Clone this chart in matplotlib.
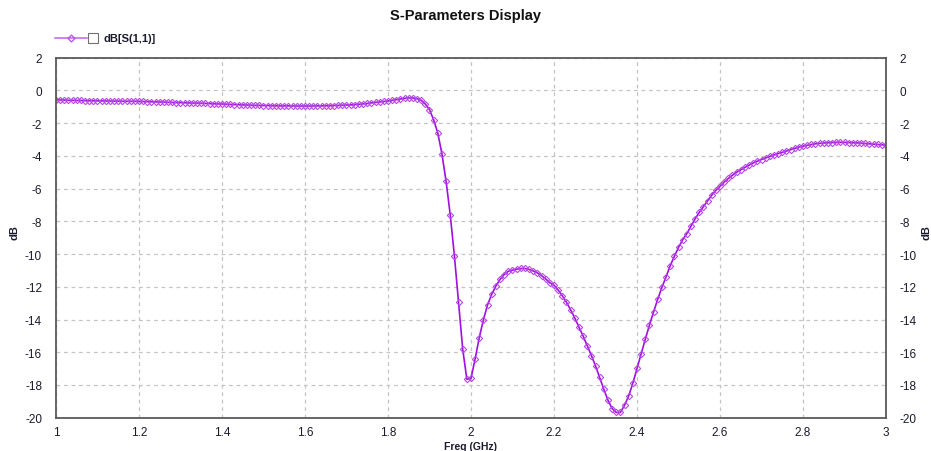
import numpy as np
import matplotlib
matplotlib.use("Agg")
import matplotlib.pyplot as plt
from matplotlib.lines import Line2D
from matplotlib.patches import Rectangle

plt.rcParams['font.family'] = ['Liberation Sans', 'DejaVu Sans']
plt.rcParams['axes.unicode_minus'] = False

title = "S-Parameters Display"
series_name = "dB[S(1,1)]"
x_label = "Freq (GHz)"
y_label = "dB"

freq_start = 1.0
freq_step = 0.01

s11_db = [
    # 1.00 - 1.09
    -0.56, -0.58, -0.59, -0.60, -0.60, -0.61, -0.61, -0.62, -0.62, -0.63,
    # 1.10 - 1.19
    -0.63, -0.64, -0.64, -0.65, -0.65, -0.65, -0.66, -0.66, -0.66, -0.66,
    # 1.20 - 1.29
    -0.67, -0.67, -0.68, -0.69, -0.70, -0.70, -0.71, -0.72, -0.73, -0.74,
    # 1.30 - 1.39
    -0.74, -0.75, -0.76, -0.77, -0.77, -0.78, -0.79, -0.80, -0.81, -0.82,
    # 1.40 - 1.49
    -0.83, -0.84, -0.85, -0.86, -0.87, -0.88, -0.89, -0.90, -0.91, -0.91,
    # 1.50 - 1.59
    -0.92, -0.92, -0.93, -0.93, -0.94, -0.94, -0.94, -0.95, -0.95, -0.95,
    # 1.60 - 1.69
    -0.95, -0.95, -0.95, -0.94, -0.94, -0.93, -0.93, -0.92, -0.91, -0.90,
    # 1.70 - 1.79
    -0.89, -0.88, -0.86, -0.84, -0.82, -0.79, -0.76, -0.73, -0.70, -0.67,
    # 1.80 - 1.89
    -0.64, -0.60, -0.56, -0.52, -0.48, -0.46, -0.46, -0.50, -0.60, -0.83,
    # 1.90 - 1.99
    -1.17, -1.79, -2.60, -3.88, -5.55, -7.60, -10.10, -12.95, -15.80, -17.65,
    # 2.00 - 2.09
    -17.60, -16.40, -15.10, -14.00, -13.10, -12.45, -11.95, -11.55, -11.25, -11.05,
    # 2.10 - 2.19
    -10.98, -10.92, -10.88, -10.88, -10.94, -11.03, -11.15, -11.32, -11.52, -11.75,
    # 2.20 - 2.29
    -11.90, -12.20, -12.55, -12.95, -13.40, -13.90, -14.45, -15.00, -15.60, -16.20,
    # 2.30 - 2.39
    -16.83, -17.54, -18.26, -18.93, -19.44, -19.68, -19.68, -19.24, -18.67, -17.89,
    # 2.40 - 2.49
    -16.99, -16.10, -15.20, -14.34, -13.53, -12.75, -12.04, -11.39, -10.71, -10.14,
    # 2.50 - 2.59
    -9.59, -9.13, -8.75, -8.30, -7.85, -7.45, -7.10, -6.75, -6.40, -6.10,
    # 2.60 - 2.69
    -5.85, -5.60, -5.38, -5.18, -5.00, -4.85, -4.70, -4.56, -4.43, -4.32,
    # 2.70 - 2.79
    -4.22, -4.12, -4.03, -3.94, -3.86, -3.78, -3.70, -3.62, -3.54, -3.46,
    # 2.80 - 2.89
    -3.40, -3.35, -3.30, -3.26, -3.23, -3.21, -3.19, -3.18, -3.17, -3.17,
    # 2.90 - 2.99
    -3.17, -3.18, -3.19, -3.20, -3.22, -3.24, -3.26, -3.28, -3.30, -3.32,
    # 3.00
    -3.34,
]

freq = freq_start + freq_step * np.arange(len(s11_db))

x_ticks = [1.0, 1.2, 1.4, 1.6, 1.8, 2.0, 2.2, 2.4, 2.6, 2.8, 3.0]
x_tick_labels = ["1", "1.2", "1.4", "1.6", "1.8", "2", "2.2", "2.4", "2.6", "2.8", "3"]
y_ticks = list(range(-20, 3, 2))

line_color = "#a010e0"
marker_color = "#b848e6"
text_color = "#1a1a2e"

fig = plt.figure(figsize=(9.31, 4.52), dpi=100)
fig.patch.set_facecolor("white")
ax = fig.add_axes([0.0601, 0.0737, 0.8916, 0.7963])

ax.plot(freq, s11_db, color=line_color, lw=1.2, marker="D", markersize=3.2,
        markerfacecolor="none", markeredgecolor=marker_color, markeredgewidth=0.8)

ax.set_xlim(1.0, 3.0)
ax.set_ylim(-20, 2)
ax.set_xticks(x_ticks)
ax.set_xticklabels(x_tick_labels)
ax.set_yticks(y_ticks)
ax.grid(True, color="#c4c4c4", linestyle=(0, (3, 3)), linewidth=0.9)
for s in ax.spines.values():
    s.set_color("#5a5a5a")
    s.set_linewidth(1.3)
ax.tick_params(axis="both", length=0, labelsize=8.5, colors=text_color, pad=7)
ax.tick_params(axis="y", labelright=True, pad=10)
ax.tick_params(axis="x", pad=6)

ax.set_xlabel(x_label, fontsize=7.5, fontweight="bold", color=text_color, labelpad=2)
fig.text(14 / 931, 0.485, y_label, rotation=90, fontsize=8, fontweight="bold",
         color=text_color, ha="center", va="center")
fig.text(926 / 931, 0.485, y_label, rotation=90, fontsize=8, fontweight="bold",
         color=text_color, ha="center", va="center")

fig.text(0.5, 0.965, title, ha="center", va="center", fontsize=10.5,
         fontweight="bold", color="#111111")

# legend
ly = 1 - 39 / 452
fig.add_artist(Line2D([55 / 931, 87 / 931], [ly, ly], color="#c060f0", lw=1.1))
fig.add_artist(Line2D([71 / 931], [ly], color="#c060f0", marker="D", markersize=3.5,
                      markerfacecolor="none", markeredgecolor="#b451e3", markeredgewidth=0.9))
fig.add_artist(Rectangle((88 / 931, 1 - 44 / 452), 10 / 931, 10 / 452,
                         facecolor="white", edgecolor="#707070", lw=0.8,
                         transform=fig.transFigure))
fig.text(103 / 931, ly, series_name, fontsize=8, fontweight="bold",
         color=text_color, va="center", ha="left")

fig.savefig("out.png", dpi=100, facecolor="white")
